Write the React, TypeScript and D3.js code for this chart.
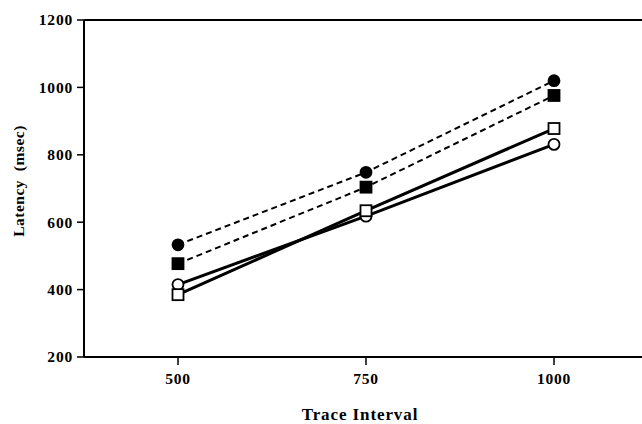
import React from "react";
import * as d3 from "d3";

const intervals = [500, 750, 1000];
const xTicks = [500, 750, 1000];
const yTicks = [200, 400, 600, 800, 1000, 1200];
const filledCircle = [533, 748, 1020];
const filledSquare = [477, 704, 976];
const openCircle = [415, 618, 831];
const openSquare = [385, 634, 878];

const W = 642, H = 424;
const x = d3.scaleLinear().domain([500, 1000]).range([178, 554]);
const y = d3.scaleLinear().domain([200, 1200]).range([357, 20]);
const left = 84, right = 642, top = 20, bottom = 357;

const line = d3.line<number>().x((_, i) => x(intervals[i])).y((d) => y(d));
const font = "'Liberation Serif', 'Times New Roman', serif";

export default function App() {
  const series = [
    { data: filledCircle, dashed: true, shape: "circle", fill: "#000" },
    { data: filledSquare, dashed: true, shape: "square", fill: "#000" },
    { data: openCircle, dashed: false, shape: "circle", fill: "#fff" },
    { data: openSquare, dashed: false, shape: "square", fill: "#fff" },
  ];
  return (
    <svg width={W} height={H} style={{ position: "absolute", left: 0, top: 0, background: "#fff" }}>
      <rect width={W} height={H} fill="#fff" />
      <line x1={left} x2={right} y1={top} y2={top} stroke="#000" strokeWidth={2} />
      <line x1={left} x2={right} y1={bottom} y2={bottom} stroke="#000" strokeWidth={2} />
      <line x1={left} x2={left} y1={top} y2={bottom} stroke="#000" strokeWidth={2} />
      {yTicks.map((t) => (
        <g key={t}>
          <line x1={left - 7} x2={left} y1={y(t)} y2={y(t)} stroke="#000" strokeWidth={1.5} />
          <text x={left - 11} y={y(t)} dy="0.35em" textAnchor="end" fontFamily={font} fontWeight="bold" fontSize={15.5} letterSpacing={0.8}>
            {t}
          </text>
        </g>
      ))}
      {xTicks.map((t) => (
        <g key={t}>
          <line x1={x(t)} x2={x(t)} y1={bottom} y2={bottom + 8} stroke="#000" strokeWidth={1.5} />
          <text x={x(t)} y={bottom + 27} textAnchor="middle" fontFamily={font} fontWeight="bold" fontSize={15.5} letterSpacing={0.8}>
            {t}
          </text>
        </g>
      ))}
      <text x={360} y={420} textAnchor="middle" fontFamily={font} fontWeight="bold" fontSize={17} letterSpacing={0.9}>
        Trace Interval
      </text>
      <text transform={`translate(24,181) rotate(-90)`} textAnchor="middle" fontFamily={font} fontWeight="bold" fontSize={15.5} letterSpacing={0.5} style={{ whiteSpace: "pre" }}>
        {"Latency  (msec)"}
      </text>
      {series.map((s, si) => (
        <path key={"l" + si} d={line(s.data) || ""} fill="none" stroke="#000" strokeWidth={s.dashed ? 2 : 3} strokeDasharray={s.dashed ? "6,4" : undefined} />
      ))}
      {series.map((s, si) =>
        s.data.map((v, i) =>
          s.shape === "circle" ? (
            <circle key={si + "-" + i} cx={x(intervals[i])} cy={y(v)} r={5.5} fill={s.fill} stroke="#000" strokeWidth={1.8} />
          ) : (
            <rect key={si + "-" + i} x={x(intervals[i]) - 5.5} y={y(v) - 5.5} width={11} height={11} fill={s.fill} stroke="#000" strokeWidth={1.8} />
          )
        )
      )}
    </svg>
  );
}
